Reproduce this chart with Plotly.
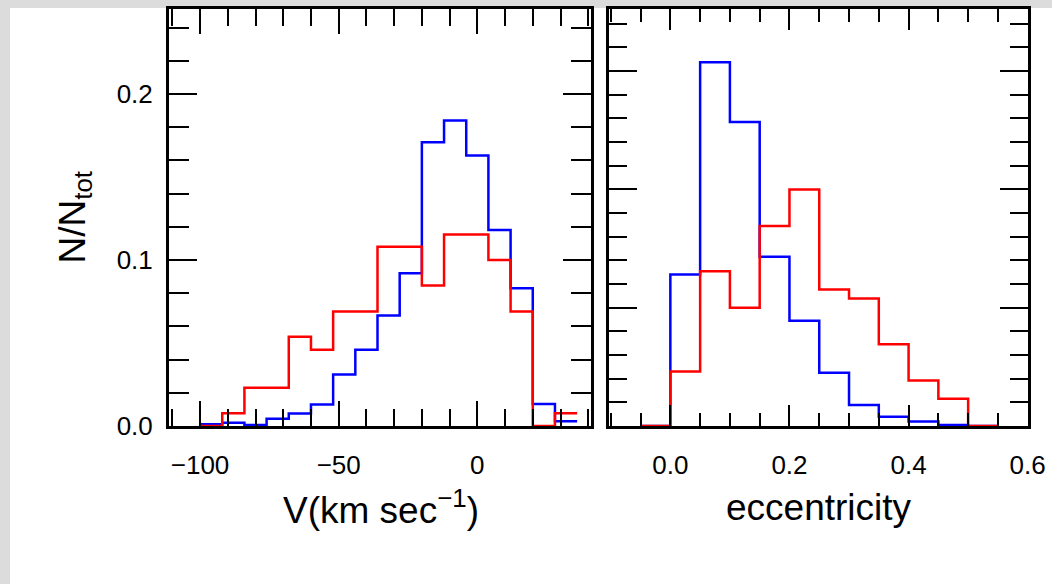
import plotly.graph_objects as go
from plotly.subplots import make_subplots

# Radial velocity histogram: bin edges (km/s) and normalised counts
v_edges = [-100, -92, -84, -76, -68, -60, -52, -44, -36, -28, -20, -12, -4, 4, 12, 20, 28, 36]
v_blue = [0.001, 0.002, 0.0006, 0.0044, 0.0076, 0.013, 0.031, 0.046, 0.0666, 0.092,
          0.171, 0.184, 0.163, 0.118, 0.083, 0.0133, 0.0028]
v_red = [0.0, 0.0077, 0.023, 0.023, 0.0538, 0.046, 0.069, 0.069, 0.108, 0.108,
         0.0846, 0.1154, 0.1154, 0.1, 0.069, 0.0, 0.0077]

# Orbital eccentricity histogram: bin edges and normalised counts
e_edges = [-0.05, 0.0, 0.05, 0.1, 0.15, 0.2, 0.25, 0.3, 0.35, 0.4, 0.45, 0.5, 0.55]
e_blue = [0.0, 0.128, 0.3075, 0.257, 0.143, 0.089, 0.045, 0.0178, 0.0079, 0.0037, 0.0008, 0.0]
e_red = [0.0, 0.046, 0.1308, 0.1, 0.169, 0.2, 0.1154, 0.1077, 0.069, 0.0385, 0.023, 0.0]

W, H = 1052, 584
BLUE, RED = "#0000ff", "#ff0000"
FONT = "Liberation Sans, Arial, Helvetica, sans-serif"


def px(x):
    return x / W


def py(y):
    return 1 - y / H


fig = make_subplots(rows=1, cols=2)


def step(edges, vals, color, col):
    fig.add_trace(
        go.Scatter(x=edges, y=list(vals) + [vals[-1]], mode="lines",
                   line=dict(color=color, width=2.5, shape="hv"),
                   showlegend=False, hoverinfo="skip"),
        row=1, col=col)


step(v_edges, v_blue, BLUE, 1)
step(v_edges, v_red, RED, 1)
step(e_edges, e_blue, BLUE, 2)
step(e_edges, e_red, RED, 2)

axis_common = dict(
    showline=True, linewidth=3, linecolor="black", mirror="allticks",
    ticks="inside", tickwidth=2, tickcolor="black", showgrid=False, zeroline=False,
    automargin=False,
    tickfont=dict(family=FONT, size=26, color="black"),
)

fig.update_layout(
    template="none",
    width=W, height=H,
    margin=dict(l=0, r=0, t=0, b=0, pad=0, autoexpand=False),
    paper_bgcolor="#dcdcdc",
    plot_bgcolor="white",
    xaxis=dict(axis_common, domain=[px(169), px(591)], range=[-111.2, 41.0],
               tick0=0, dtick=50, ticklen=25, ticklabelstandoff=14,
               minor=dict(dtick=10, tick0=0, ticks="inside", ticklen=17,
                          tickwidth=2, tickcolor="black")),
    yaxis=dict(axis_common, domain=[py(426), py(9)], range=[0, 0.2512],
               tick0=0, dtick=0.1, tickformat=".1f", ticklen=28, ticklabelstandoff=8,
               minor=dict(dtick=0.02, tick0=0, ticks="inside", ticklen=20,
                          tickwidth=2, tickcolor="black")),
    xaxis2=dict(axis_common, domain=[px(609), px(1028)], range=[-0.103, 0.6005],
                tick0=0, dtick=0.2, tickformat=".1f", ticklen=21, ticklabelstandoff=14,
                minor=dict(dtick=0.05, tick0=0, ticks="inside", ticklen=13,
                           tickwidth=2, tickcolor="black")),
    yaxis2=dict(axis_common, domain=[py(426), py(9)], range=[0, 0.3525],
                tick0=0, dtick=0.1, ticklen=28, showticklabels=False,
                minor=dict(dtick=0.02, tick0=0, ticks="inside", ticklen=18,
                           tickwidth=2, tickcolor="black")),
)

# White page area framed by the grey border on the left and top
fig.add_shape(type="rect", xref="paper", yref="paper",
              x0=px(10), x1=1.0, y0=0.0, y1=py(8),
              fillcolor="white", line=dict(width=0), layer="below")

title_font = dict(family=FONT, size=37, color="black")
fig.add_annotation(text="V(km sec<sup>\u22121</sup>)", xref="paper", yref="paper",
                   x=px(380.5), y=py(507), xanchor="center", yanchor="middle",
                   showarrow=False, font=title_font)
fig.add_annotation(text="eccentricity", xref="paper", yref="paper",
                   x=px(818.5), y=py(507), xanchor="center", yanchor="middle",
                   showarrow=False, font=title_font)
fig.add_annotation(text="N/N<sub>tot</sub>", xref="paper", yref="paper",
                   x=px(74), y=py(217.5), xanchor="center", yanchor="middle",
                   textangle=-90, showarrow=False, font=title_font)

fig.write_html("out.html")
